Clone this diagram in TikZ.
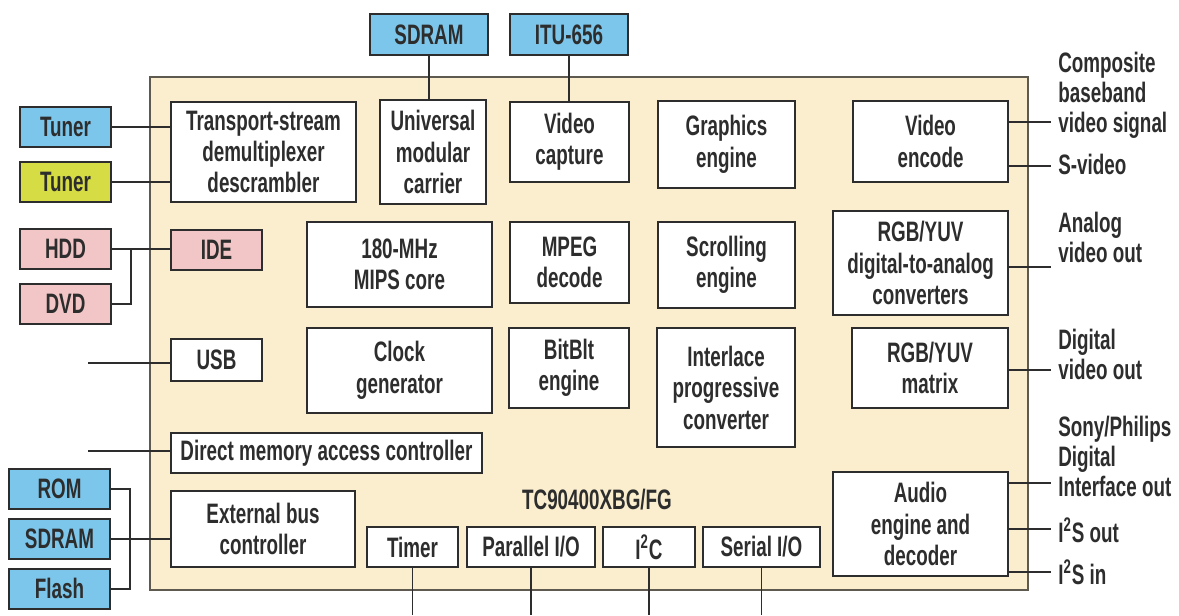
\documentclass[tikz,border=0pt]{standalone}
\usepackage{fontspec}
\setmainfont[FakeStretch=0.67]{Liberation Sans}
\definecolor{chipbeige}{RGB}{250,238,206}
\definecolor{chipedge}{RGB}{95,90,80}
\definecolor{extblue}{RGB}{125,198,235}
\definecolor{extyellow}{RGB}{214,220,68}
\definecolor{extpink}{RGB}{242,198,198}
\definecolor{inkgray}{RGB}{45,45,45}
\usetikzlibrary{positioning}

\begin{document}
\begin{tikzpicture}[x=0.02cm, y=-0.02cm, font=\bfseries\fontsize{16}{17.9}\selectfont]
    \tikzstyle{block} = [rectangle, draw=inkgray, fill=white, text=inkgray,
        align=center, line width=1.1pt, inner sep=2pt]
    \tikzstyle{extblock} = [block, minimum width=1.82cm, minimum height=0.8cm]
    \tikzstyle{wire} = [line width=1.1pt, draw=inkgray]
    \tikzstyle{signal} = [anchor=north west, align=left, inner sep=0pt, text=inkgray,
        font=\bfseries\fontsize{16}{17}\selectfont]

    \useasboundingbox (0,0) rectangle (1179,615);

    % the chip
    \node [rectangle, draw=chipedge, fill=chipbeige, line width=1.4pt,
        minimum width=17.56cm, minimum height=10.26cm] (chip) at (589,333.5) {};
    \node [text=inkgray] (partno) at (597,500) {TC90400XBG/FG};

    % top row
    \node [block, minimum width=3.7cm, minimum height=2cm] (tsd) at (263.5,152) {Transport-stream\\demultiplexer\\descrambler};
    \node [block, minimum width=2.12cm, minimum height=2.08cm] (umc) at (433,152) {Universal\\modular\\carrier};
    \node [block, minimum width=2.38cm, minimum height=1.6cm] (vcap) at (569.5,142) {Video\\capture};
    \node [block, minimum width=2.74cm, minimum height=1.74cm] (gfx) at (726.5,144.5) {Graphics\\engine};
    \node [block, minimum width=3.1cm, minimum height=1.62cm] (venc) at (930.5,141.5) {Video\\encode};

    % second row
    \node [block, minimum width=1.82cm, minimum height=0.8cm, fill=extpink] (ide) at (216.5,250) {IDE};
    \node [block, minimum width=3.7cm, minimum height=1.7cm] (mips) at (399.5,264.5) {180-MHz\\MIPS core};
    \node [block, minimum width=2.38cm, minimum height=1.62cm] (mpeg) at (569.5,262.5) {MPEG\\decode};
    \node [block, minimum width=2.74cm, minimum height=1.72cm] (scroll) at (726.5,265) {Scrolling\\engine};
    \node [block, minimum width=3.5cm, minimum height=2.08cm] (dac) at (920.5,263) {RGB/YUV\\digital-to-analog\\converters};

    % third row
    \node [block, minimum width=1.82cm, minimum height=0.84cm] (usb) at (216.5,360) {USB};
    \node [block, minimum width=3.7cm, minimum height=1.7cm] (clk) at (399.5,370.5) {Clock\\generator};
    \node [block, minimum width=2.4cm, minimum height=1.6cm] (bitblt) at (569,368) {BitBlt\\engine};
    \node [block, minimum width=2.76cm, minimum height=2.38cm] (ilace) at (726,387.5) {Interlace\\progressive\\converter};
    \node [block, minimum width=3.12cm, minimum height=1.6cm] (mtx) at (930,368) {RGB/YUV\\matrix};

    % bottom rows
    \node [block, minimum width=6.22cm, minimum height=0.8cm] (dma) at (326.5,453) {Direct memory access controller};
    \node [block, minimum width=3.68cm, minimum height=1.52cm] (ebc) at (263,529) {External bus\\controller};
    \node [block, minimum width=1.82cm, minimum height=0.8cm] (timer) at (412.5,547) {Timer};
    \node [block, minimum width=2.56cm, minimum height=0.8cm] (pio) at (531,547) {Parallel I/O};
    \node [block, minimum width=1.84cm, minimum height=0.8cm] (iic) at (649,547) {I\textsuperscript{2}C};
    \node [block, minimum width=2.34cm, minimum height=0.8cm] (sio) at (761.5,547) {Serial I/O};
    \node [block, minimum width=3.5cm, minimum height=2.08cm] (audio) at (920.5,524) {Audio\\engine and\\decoder};

    % outside parts
    \node [extblock, minimum width=2.36cm, minimum height=0.82cm, fill=extblue] (sdramtop) at (429,34.5) {SDRAM};
    \node [extblock, minimum width=2.36cm, minimum height=0.82cm, fill=extblue] (itu) at (569,34.5) {ITU-656};
    \node [extblock, fill=extblue] (tuner1) at (65.5,127) {Tuner};
    \node [extblock, fill=extyellow, below=0.26cm of tuner1] (tuner2) {Tuner};
    \node [extblock, fill=extpink] (hdd) at (65.5,249) {HDD};
    \node [extblock, fill=extpink, below=0.26cm of hdd] (dvd) {DVD};
    \node [extblock, minimum width=2.02cm, fill=extblue] (rom) at (59.5,489) {ROM};
    \node [extblock, minimum width=2.02cm, fill=extblue, below=0.16cm of rom] (sdram) {SDRAM};
    \node [extblock, minimum width=2.02cm, fill=extblue, below=0.16cm of sdram] (flash) {Flash};

    % signal names
    \node [signal] (lblcvbs) at (1058,52) {Composite\\baseband\\video signal};
    \node [signal] (lblsvid) at (1058,154) {S-video};
    \node [signal] (lblanalog) at (1058,212) {Analog\\video out};
    \node [signal] (lbldigital) at (1058,329) {Digital\\video out};
    \node [signal] (lblspdif) at (1058,416) {Sony/Philips\\Digital\\Interface out};
    \node [signal] (lbli2sout) at (1058,517) {I\textsuperscript{2}S out};
    \node [signal] (lbli2sin) at (1058,559) {I\textsuperscript{2}S in};

    % free wire ends
    \coordinate (cvbsend) at (1051,122);
    \coordinate (svidend) at (1051,166);
    \coordinate (analogend) at (1051,267);
    \coordinate (digitalend) at (1051,370);
    \coordinate (spdifend) at (1051,483);
    \coordinate (i2soutend) at (1051,529);
    \coordinate (i2sinend) at (1051,572);
    \coordinate (usbend) at (88,363);
    \coordinate (dmaend) at (88,451);
    \coordinate (pinrow) at (0,615);

    % wires
    \draw [wire] (sdramtop.south) -- (sdramtop.south |- umc.north);
    \draw [wire] (itu.south) -- (itu.south |- vcap.north);
    \draw [wire] (tuner1.east) -- (tuner1.east -| tsd.west);
    \draw [wire] (tuner2.east) -- (tuner2.east -| tsd.west);
    \draw [wire] (hdd.east) -- (hdd.east -| ide.west);
    \draw [wire] (dvd.east) -- ++(19,0) |- (hdd.east);
    \draw [wire] (usbend) -- (usbend -| usb.west);
    \draw [wire] (dmaend) -- (dmaend -| dma.west);
    \draw [wire] (sdram.east) -- (sdram.east -| ebc.west);
    \draw [wire] (rom.east) -- ++(19,0) |- (flash.east);
    \foreach \pin in {timer, pio, iic, sio}
        \draw [wire] (\pin.south) -- (\pin.south |- pinrow);
    \draw [wire] (venc.east |- cvbsend) -- (cvbsend);
    \draw [wire] (venc.east |- svidend) -- (svidend);
    \draw [wire] (dac.east |- analogend) -- (analogend);
    \draw [wire] (mtx.east |- digitalend) -- (digitalend);
    \draw [wire] (audio.east |- spdifend) -- (spdifend);
    \draw [wire] (audio.east |- i2soutend) -- (i2soutend);
    \draw [wire] (audio.east |- i2sinend) -- (i2sinend);
\end{tikzpicture}
\end{document}
